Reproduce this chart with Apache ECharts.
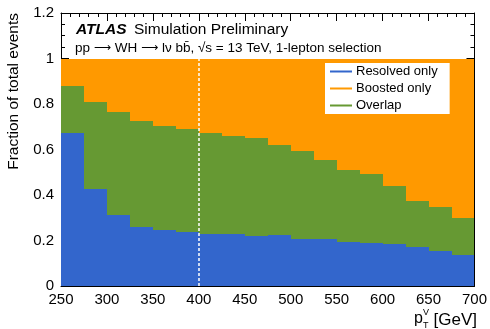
<!DOCTYPE html>
<html><head><meta charset="utf-8">
<script src="https://cdn.jsdelivr.net/npm/echarts@6/dist/echarts.min.js"></script>
<style>html,body{margin:0;padding:0;background:#fff}#c{width:490px;height:329px}</style>
</head><body><div id="c"></div>
<script>
// bin edges in GeV (p_T^V)
const binEdges = [250,275,300,325,350,375,400,425,450,475,500,525,550,575,600,625,650,675,700];
// fractions per bin
const resolvedOnly = [0.674,0.426,0.311,0.261,0.246,0.236,0.230,0.230,0.221,0.223,0.206,0.208,0.192,0.187,0.183,0.170,0.152,0.135];
const overlap      = [0.203,0.382,0.453,0.466,0.458,0.454,0.444,0.431,0.430,0.395,0.387,0.346,0.316,0.305,0.256,0.204,0.194,0.164];
const boostedOnly  = [0.123,0.192,0.236,0.273,0.296,0.310,0.326,0.339,0.349,0.382,0.407,0.446,0.492,0.508,0.561,0.626,0.654,0.701];
const xTicks = [250,300,350,400,450,500,550,600,650,700];
const yTicks = [0,0.2,0.4,0.6,0.8,1,1.2];
const cutValue = 400;

const FONT = 'Liberation Sans, Arial, Helvetica, sans-serif';
const colors = {res:'#3366cc', boo:'#ff9900', ov:'#669933'};

function toRects(vals, bases){
  return vals.map((v,i)=>[binEdges[i], binEdges[i+1], bases[i], bases[i]+v]);
}
const zero = resolvedOnly.map(()=>0);
const base2 = resolvedOnly.slice();
const base3 = resolvedOnly.map((v,i)=>v+overlap[i]);

function renderItem(params, api){
  const p0 = api.coord([api.value(0), api.value(3)]);
  const p1 = api.coord([api.value(1), api.value(2)]);
  const x0 = Math.round(p0[0]), x1 = Math.round(p1[0]);
  const y0 = Math.round(p0[1]), y1 = Math.round(p1[1]);
  const c = api.visual('color');
  return {type:'rect', shape:{x:x0, y:y0, width:x1-x0, height:y1-y0},
          style:{fill:c}};
}

function xAxisCfg(pos, labels){
  return {type:'value', min:250, max:700, interval:50, position:pos,
    axisLine:{show:true, onZero:false, lineStyle:{color:'#000', width:1}},
    axisTick:{show:true, inside:true, length:8, lineStyle:{color:'#000', width:1}},
    minorTick:{show:true, splitNumber:5, length:4, lineStyle:{color:'#000', width:1}},
    axisLabel:{show:labels, color:'#000', fontSize:15, fontFamily:FONT, margin:6},
    splitLine:{show:false}, minorSplitLine:{show:false}};
}
function yAxisCfg(pos, labels){
  return {type:'value', min:0, max:1.2, interval:0.2, position:pos,
    axisLine:{show:true, onZero:false, lineStyle:{color:'#000', width:1}},
    axisTick:{show:true, inside:true, length:8, lineStyle:{color:'#000', width:1}},
    minorTick:{show:true, splitNumber:4, length:4, lineStyle:{color:'#000', width:1}},
    axisLabel:{show:labels, color:'#000', fontSize:15, fontFamily:FONT, margin:7,
      formatter:(v)=>String(Math.round(v*10)/10)},
    splitLine:{show:false}, minorSplitLine:{show:false}};
}

const chart = echarts.init(document.getElementById('c'), null, {renderer:'canvas'});
chart.setOption({
  animation:false,
  backgroundColor:'#fff',
  grid:{left:61, right:14, top:13, bottom:43, containLabel:false},
  xAxis:[xAxisCfg('bottom', true), xAxisCfg('top', false)],
  yAxis:[yAxisCfg('left', true), yAxisCfg('right', false)],
  legend:{
    orient:'vertical', left:325, top:63, padding:[0,12,0,5], itemGap:0,
    backgroundColor:'#fff', icon:'rect', itemWidth:22, itemHeight:2,
    textStyle:{color:'#000', fontSize:13, fontFamily:FONT, lineHeight:17, padding:[0,0,0,-1]},
    data:['Resolved only','Boosted only','Overlap'], selectedMode:false
  },
  series:[
    {name:'Resolved only', type:'custom', renderItem, itemStyle:{color:colors.res},
     encode:{x:[0,1], y:[2,3]}, data:toRects(resolvedOnly, zero), z:2},
    {name:'Overlap', type:'custom', renderItem, itemStyle:{color:colors.ov},
     encode:{x:[0,1], y:[2,3]}, data:toRects(overlap, base2), z:2},
    {name:'Boosted only', type:'custom', renderItem, itemStyle:{color:colors.boo},
     encode:{x:[0,1], y:[2,3]}, data:toRects(boostedOnly, base3), z:2,
     markLine:{silent:true, symbol:['none','none'], label:{show:false},
       lineStyle:{color:'#fff', type:[3,2], width:1.5},
       data:[[{coord:[cutValue,0]},{coord:[cutValue,1]}]]}}
  ],
  graphic:[
    {type:'text', x:76, y:30, style:{text:'ATLAS', font:'italic bold 15.5px '+FONT, fill:'#000', textVerticalAlign:'middle'}},
    {type:'text', x:134, y:30, style:{text:'Simulation Preliminary', font:'15.5px '+FONT, fill:'#000', textVerticalAlign:'middle'}},
    {type:'text', x:75, y:48, style:{
      text:'{t|pp }{a|\u27f6}{t| WH }{a|\u27f6}{t| l\u03bd b\u0062\u0304, \u221as = 13 TeV, 1-lepton selection}',
      fill:'#000', textVerticalAlign:'middle',
      rich:{t:{fontSize:13.5, fontFamily:FONT, fill:'#000'}, a:{fontSize:12, fontFamily:'DejaVu Sans', fill:'#000'}}}},
    {type:'text', x:14, y:13, rotation:Math.PI/2, style:{text:'Fraction of total events', font:'15.5px '+FONT, fill:'#000', textAlign:'right', textVerticalAlign:'middle'}},
    {type:'text', x:414, y:319, style:{text:'p', font:'16px '+FONT, fill:'#000', textVerticalAlign:'middle'}},
    {type:'text', x:423, y:313, style:{text:'V', font:'9px '+FONT, fill:'#000', textVerticalAlign:'middle'}},
    {type:'text', x:423, y:326, style:{text:'T', font:'9px '+FONT, fill:'#000', textVerticalAlign:'middle'}},
    {type:'text', x:477, y:320, style:{text:'[GeV]', font:'17px '+FONT, fill:'#000', textAlign:'right', textVerticalAlign:'middle'}}
  ]
});
</script></body></html>
